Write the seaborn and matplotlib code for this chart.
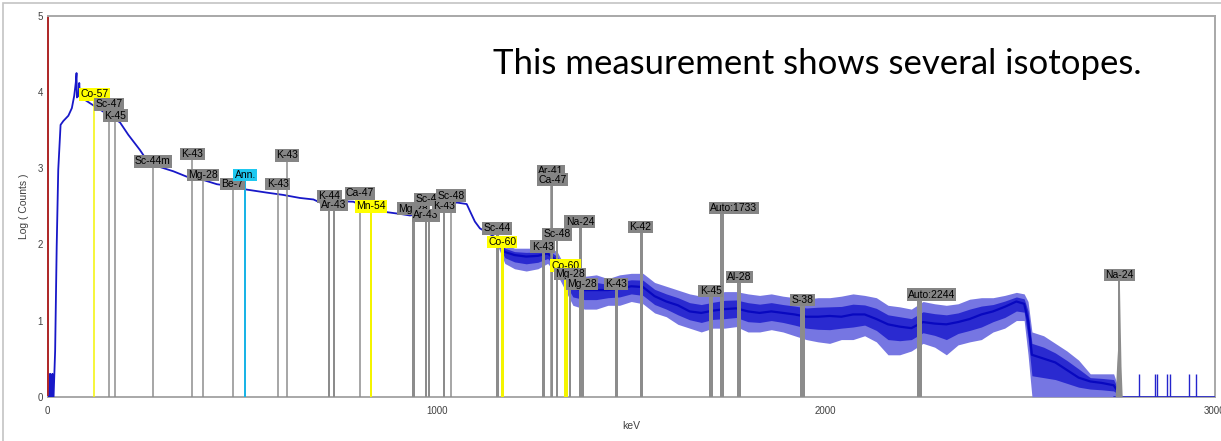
import matplotlib
matplotlib.use('Agg')
import matplotlib.pyplot as plt
from matplotlib.patches import Rectangle
from matplotlib.ticker import MultipleLocator
import seaborn as sns

# gamma spectrum, log10 of counts per channel
smooth_kev = [0, 5, 6, 7, 11, 12, 13, 15, 19, 23, 27, 33, 40, 53, 62, 68, 72, 74, 75, 79,
              81, 83, 95, 110, 125, 150, 170, 186, 207, 237, 254, 280, 323, 357, 391, 435, 477, 511, 563, 605,
              648, 683, 700, 740, 786, 820, 862, 906, 931, 960, 990, 1016, 1035, 1051, 1077, 1086, 1098, 1111, 1128, 1155]
smooth_log = [0, 0, 0.3, 0, 0, 0.3, 0, 0, 0.6, 1.97, 2.98, 3.57, 3.62, 3.69, 3.79, 3.95, 4.12, 4.25, 3.93, 3.95,
              4.12, 3.93, 3.9, 3.85, 3.8, 3.72, 3.66, 3.6, 3.44, 3.24, 3.11, 3.03, 2.96, 2.89, 2.86, 2.79, 2.76, 2.72, 2.68, 2.65,
              2.61, 2.59, 2.55, 2.57, 2.56, 2.48, 2.43, 2.40, 2.38, 2.40, 2.43, 2.50, 2.52, 2.55, 2.53, 2.43, 2.30, 2.21, 2.16, 2.08]

# noisy part: centre of the trace and the spread of the noise
noisy_kev = [1155, 1175, 1200, 1230, 1260, 1285, 1310, 1330, 1350, 1380, 1410, 1440, 1470, 1500, 1530,
             1560, 1590, 1620, 1650, 1680, 1710, 1740, 1770, 1800, 1830, 1860, 1890, 1920, 1950, 1980, 2010,
             2040, 2070, 2100, 2130, 2160, 2190, 2220, 2250, 2280, 2310, 2340, 2370, 2400, 2430, 2460, 2490,
             2510, 2520, 2530, 2560, 2590, 2620, 2650, 2680, 2710, 2740, 2760]
noisy_mid = [2.08, 1.90, 1.86, 1.84, 1.85, 1.88, 1.78, 1.58, 1.42, 1.40, 1.40, 1.40, 1.42, 1.45, 1.44,
             1.32, 1.25, 1.20, 1.12, 1.10, 1.13, 1.15, 1.16, 1.12, 1.10, 1.12, 1.10, 1.08, 1.05, 1.05, 1.06,
             1.05, 1.08, 1.08, 1.02, 0.95, 0.92, 0.90, 0.98, 0.96, 0.95, 0.98, 1.02, 1.08, 1.12, 1.18, 1.25,
             1.22, 1.00, 0.55, 0.50, 0.45, 0.35, 0.25, 0.20, 0.18, 0.15, 0.0]
noisy_lo = [2.00, 1.75, 1.68, 1.65, 1.68, 1.75, 1.60, 1.40, 1.20, 1.15, 1.15, 1.20, 1.20, 1.25, 1.22,
            1.10, 1.05, 0.95, 0.90, 0.85, 0.90, 0.90, 0.92, 0.85, 0.85, 0.88, 0.85, 0.80, 0.75, 0.72, 0.70,
            0.75, 0.75, 0.80, 0.72, 0.55, 0.55, 0.60, 0.70, 0.65, 0.55, 0.68, 0.72, 0.75, 0.85, 0.90, 1.00,
            1.00, 0.55, 0, 0, 0, 0, 0, 0, 0, 0, 0]
noisy_hi = [2.15, 2.00, 1.95, 1.95, 1.95, 1.98, 1.90, 1.70, 1.60, 1.58, 1.60, 1.55, 1.60, 1.62, 1.62,
            1.50, 1.45, 1.40, 1.35, 1.32, 1.35, 1.38, 1.38, 1.35, 1.33, 1.35, 1.32, 1.30, 1.28, 1.30, 1.30,
            1.32, 1.35, 1.33, 1.30, 1.20, 1.18, 1.15, 1.25, 1.22, 1.20, 1.22, 1.28, 1.30, 1.30, 1.33, 1.37,
            1.35, 1.25, 0.85, 0.80, 0.70, 0.60, 0.48, 0.30, 0.30, 0.30, 0.0]

# single counts above the edge
tail_kev = [2806, 2847, 2852, 2876, 2886, 2934, 2952]
tail_log = [0.3, 0.3, 0.3, 0.3, 0.3, 0.3, 0.3]
baseline_kev = [2740, 3000]
baseline_log = [0, 0]

# Na-24 2754 keV peak (grey ROI)
na_peak_kev = [2744, 2748, 2751, 2753, 2755, 2757, 2759, 2762]
na_peak_log = [0, 0.45, 0.7, 1.0, 1.45, 0.9, 0.4, 0]

# identified lines
marker_kev = [120, 157, 174, 270, 372, 399, 475, 508, 591, 615, 724, 735, 803, 831, 938, 980, 972, 1019, 1037,
              1155, 1168, 1272, 1294, 1297, 1310, 1331, 1342, 1368, 1373, 1461, 1524, 1704, 1732, 1778, 1940, 2240, 2755]
marker_name = ['Co-57', 'Sc-47', 'K-45', 'Sc-44m', 'K-43', 'Mg-28', 'Be-7', 'Ann.', 'K-43', 'K-43', 'K-44', 'Ar-43',
               'Ca-47', 'Mn-54', 'Mg-28', 'Sc-48', 'Ar-43', 'K-43', 'Sc-48', 'Sc-44', 'Co-60', 'K-43', 'Ar-41', 'Ca-47',
               'Sc-48', 'Co-60', 'Mg-28', 'Na-24', 'Mg-28', 'K-43', 'K-42', 'K-45', 'Auto:1733', 'Al-28', 'S-38',
               'Auto:2244', 'Na-24']
marker_top = [3.97, 3.84, 3.69, 3.09, 3.19, 2.91, 2.79, 2.91, 2.79, 3.17, 2.63, 2.52, 2.67, 2.50, 2.47, 2.59, 2.38,
              2.50, 2.64, 2.21, 2.03, 1.97, 2.96, 2.85, 2.13, 1.72, 1.61, 2.30, 1.48, 1.48, 2.23, 1.39, 2.48, 1.57,
              1.27, 1.34, 1.60]

# line width in pixels for each marker (ROI width)
marker_px = [1.5, 1.5, 1.5, 1.5, 1.5, 1.5, 1.5, 2, 1.5, 1.5, 2, 2, 1.5, 2, 3, 2, 2, 2, 1.5,
             3, 3, 3, 1.5, 2, 2, 4, 2, 3, 3, 3, 3, 4, 4, 4, 5, 5, 2]

calib = ['Co-57', 'Mn-54', 'Co-60']

sns.set_style('white')
plt.rcParams['font.family'] = ['Liberation Sans', 'DejaVu Sans']

fig = plt.figure(figsize=(12.21, 4.41), dpi=100)
ax = fig.add_axes([0.0391, 0.1005, 0.9558, 0.8633])

# spectrum
sns.lineplot(x=smooth_kev, y=smooth_log, ax=ax, color='#1818c8', lw=1.3, estimator=None, sort=False, zorder=3)
ax.fill_between(noisy_kev, noisy_lo, noisy_hi, color='#7676e2', lw=0, zorder=3)
ax.fill_between(noisy_kev, [(m + l) / 2 for m, l in zip(noisy_mid, noisy_lo)],
                [(m + h) / 2 for m, h in zip(noisy_mid, noisy_hi)], color='#2a2ad0', lw=0, zorder=3)
sns.lineplot(x=noisy_kev, y=noisy_mid, ax=ax, color='#0808c0', lw=1.6, estimator=None, sort=False, zorder=3)
ax.vlines(tail_kev, 0, tail_log, color='#2424cc', lw=1.0, zorder=3)
sns.lineplot(x=baseline_kev, y=baseline_log, ax=ax, color='#2424cc', lw=1.2, estimator=None, zorder=3)
ax.fill_between(na_peak_kev, 0, na_peak_log, color='#8c8c8c', lw=0, zorder=4)

# isotope markers and their labels
px = 0.72
for i, (k, name, top, w) in enumerate(zip(marker_kev, marker_name, marker_top, marker_px)):
    if name in calib:
        lc, fc = '#f4f400', '#ffff00'
    elif name == 'Ann.':
        lc, fc = '#1ab4e6', '#1ec8f0'
    else:
        lc, fc = '#8c8c8c', '#858585'
    ax.vlines(k, 0, top, color=lc, lw=w * px, zorder=5)
    dx = 9 if name.startswith('Auto') else 0
    ax.annotate(name, (k, top), xytext=(dx, 0), textcoords='offset points',
                ha='center', va='center', fontsize=7.5, color='black', zorder=10 + i,
                bbox=dict(boxstyle='square,pad=0.12', fc=fc, ec='none'))

ax.set_xlim(0, 3000)
ax.set_ylim(0, 5)
ax.xaxis.set_major_locator(MultipleLocator(1000))
ax.xaxis.set_minor_locator(MultipleLocator(500))
ax.yaxis.set_major_locator(MultipleLocator(1))
ax.yaxis.set_minor_locator(MultipleLocator(0.5))
ax.tick_params(which='both', direction='inout', colors='#404040', labelsize=7, length=3, width=0.8)
ax.tick_params(axis='x', pad=5)
ax.tick_params(axis='y', pad=2)
for s in ax.spines.values():
    s.set_color('#a8a8a8')
    s.set_linewidth(1.4)
ax.spines['left'].set_color('#a00000')
ax.spines['left'].set_linewidth(1.2)
ax.set_xlabel('keV', fontsize=7.5, color='#404040', labelpad=4)
ax.set_ylabel('Log ( Counts )', fontsize=7.5, color='#404040', labelpad=6)

fig.text(493 / 1221, (441 - 74) / 441, 'This measurement shows several isotopes.',
         fontsize=25, family='Lato', va='baseline', ha='left', color='black')

# window frame
fig.patches.append(Rectangle((3 / 1221, -0.1), 1.2, (441 - 3) / 441 + 0.1, transform=fig.transFigure,
                             fill=False, ec='#c4c4c4', lw=1.2))

fig.savefig('out.png', dpi=100)
